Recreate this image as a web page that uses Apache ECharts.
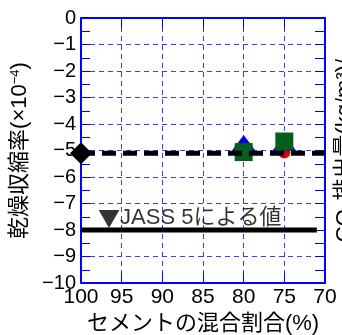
<!DOCTYPE html>
<html>
<head>
<meta charset="utf-8">
<script src="https://cdn.jsdelivr.net/npm/echarts@6.0.0/dist/echarts.min.js"></script>
<style>
html,body{margin:0;padding:0;background:#fff;}
#chart{width:342px;height:335px;}
</style>
</head>
<body>
<div id="chart"></div>
<script>
// ---- data ----
const xTickValues = [100, 95, 90, 85, 80, 75, 70];
const yTickValues = [0, -1, -2, -3, -4, -5, -6, -7, -8, -9, -10];
const baseMix = [[100, -5.1]];                 // 100% cement (diamond)
const seriesTriangle = [[80, -4.72], [75, -4.72]];
const seriesCircle = [[75, -5.08]];
const seriesSquare = [[80, -5.06], [75, -4.66]];
const baseLevelLine = [[100, -5.1], [70, -5.1]];
const jassLine = [[100, -8], [71, -8]];
const jassLabelPos = [[97.9, -7.53]];
const jassLabelText = '{tri|▼}JASS 5による値';
const xName = 'セメントの混合割合(%)';
const yName = '乾燥収縮率(×10{sup|−4})';
const y2Name = 'CO₂排出量(kg/m³)/';

const FONT = '"Liberation Sans", "Noto Sans CJK JP", sans-serif';
const CJK = '"Noto Sans CJK JP", sans-serif';
const BLUE = '#0000ff';
const GRID_BLUE = '#3a3aff';

const chart = echarts.init(document.getElementById('chart'), null, {renderer: 'canvas'});
const option = {
  animation: false,
  backgroundColor: '#fff',
  textStyle: {fontFamily: FONT},
  grid: {left: 81, right: 17, top: 18, bottom: 52, containLabel: false, outerBoundsMode: 'none'},
  xAxis: [{
    type: 'value', min: 70, max: 100, interval: 5, inverse: true,
    position: 'bottom',
    name: xName, nameLocation: 'middle', nameGap: 28,
    nameTextStyle: {fontSize: 22, color: '#000', fontFamily: FONT},
    axisLine: {show: true, onZero: false, lineStyle: {color: BLUE, width: 2}},
    axisTick: {show: true, inside: true, length: 10, lineStyle: {color: BLUE, width: 1}},
    axisLabel: {show: true, fontSize: 21, color: '#000', margin: 4, fontFamily: FONT,
      formatter: v => xTickValues.includes(v) ? String(v) : ''},
    splitLine: {show: true, lineStyle: {color: GRID_BLUE, width: 1, type: [5, 4]}}
  }, {
    type: 'value', min: 70, max: 100, interval: 5, inverse: true,
    position: 'top',
    axisLine: {show: true, onZero: false, lineStyle: {color: BLUE, width: 2}},
    axisTick: {show: true, inside: true, length: 10, lineStyle: {color: BLUE, width: 1}},
    axisLabel: {show: false},
    splitLine: {show: false}
  }],
  yAxis: [{
    type: 'value', min: -10, max: 0, interval: 1,
    position: 'left',
    name: yName, nameLocation: 'middle', nameGap: 48,
    nameTextStyle: {fontSize: 22, color: '#000', fontFamily: FONT,
      rich: {sup: {fontSize: 13, verticalAlign: 'top', color: '#000', fontFamily: FONT, padding: [0, 0, 8, 0]}}},
    axisLine: {show: true, onZero: false, lineStyle: {color: BLUE, width: 2}},
    axisTick: {show: true, inside: true, length: 9, lineStyle: {color: BLUE, width: 1}},
    minorTick: {show: true, splitNumber: 2, length: 9, lineStyle: {color: BLUE, width: 1}},
    axisLabel: {show: true, fontSize: 20, color: '#000', margin: 5, fontFamily: FONT,
      formatter: v => yTickValues.includes(v) ? String(v).replace('-', '−') : ''},
    splitLine: {show: true, lineStyle: {color: GRID_BLUE, width: 1, type: [5, 4]}}
  }, {
    type: 'value', min: -10, max: 0, interval: 0.5,
    position: 'right',
    name: y2Name, nameLocation: 'middle', nameGap: 9, nameRotate: 90,
    nameTextStyle: {fontSize: 22, color: '#000', fontFamily: FONT},
    axisLine: {show: true, onZero: false, lineStyle: {color: BLUE, width: 2}},
    axisTick: {show: true, inside: true, length: 10, lineStyle: {color: BLUE, width: 1}},
    axisLabel: {show: false},
    splitLine: {show: false}
  }],
  series: [
    {type: 'scatter', data: seriesCircle, symbol: 'circle', symbolSize: 12,
      itemStyle: {color: '#e00000', opacity: 1}, silent: true},
    {type: 'scatter', data: seriesTriangle, symbol: 'triangle', symbolSize: [24, 16],
      itemStyle: {color: '#0000ee', opacity: 1}, silent: true},
    {type: 'scatter', data: seriesSquare, symbol: 'rect', symbolSize: 18,
      itemStyle: {color: '#075e1b', opacity: 1}, silent: true},
    {type: 'line', data: baseLevelLine, symbol: 'none',
      lineStyle: {color: '#000', width: 5, type: [14, 7]}, silent: true},
    {type: 'line', data: jassLine, symbol: 'none',
      lineStyle: {color: '#000', width: 5, type: 'solid'}, silent: true},
    {type: 'scatter', data: baseMix, symbol: 'diamond', symbolSize: 22,
      itemStyle: {color: '#000', opacity: 1}, silent: true},
    {type: 'scatter', data: jassLabelPos, symbolSize: 0, silent: true,
      label: {show: true, position: 'right', distance: 0, formatter: jassLabelText,
        fontSize: 22, color: '#000', fontFamily: FONT,
        rich: {tri: {fontSize: 22, fontFamily: CJK, color: '#000'}}}}
  ]
};
chart.setOption(option);
</script>
</body>
</html>
